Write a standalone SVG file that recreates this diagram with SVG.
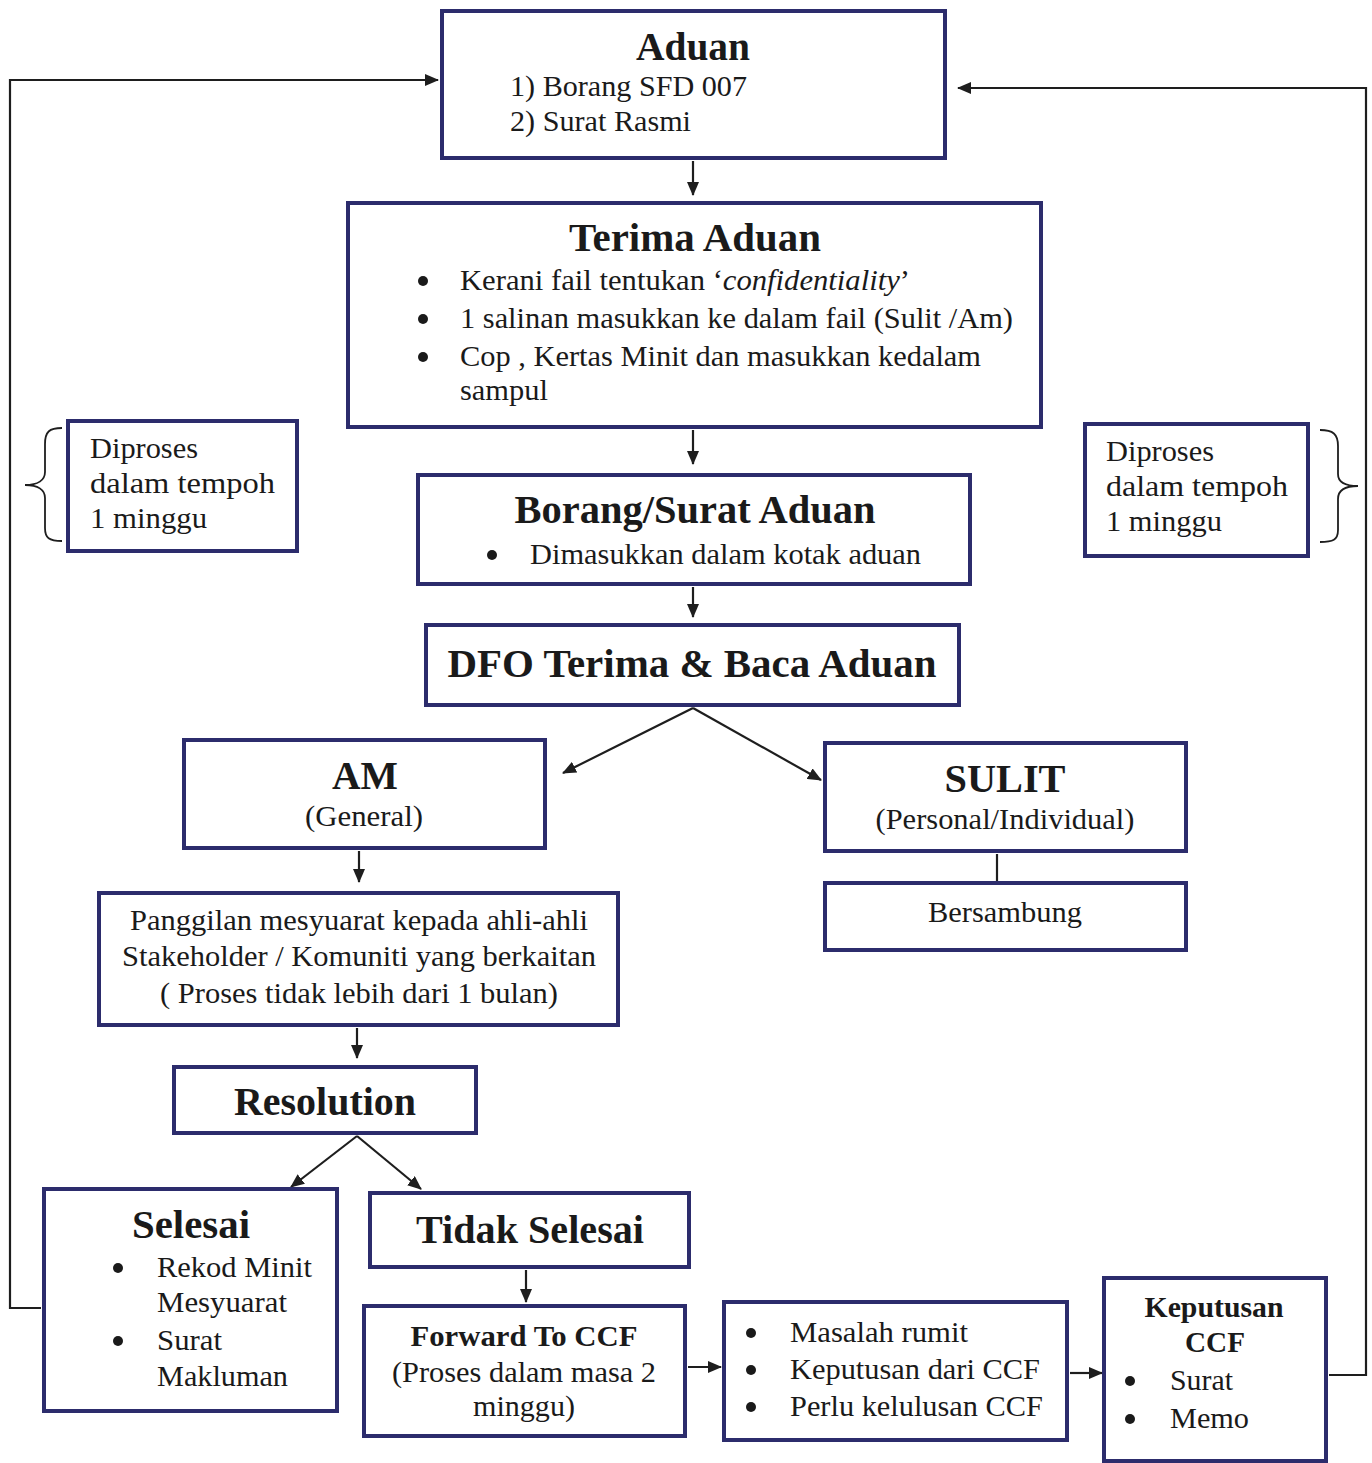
<svg xmlns="http://www.w3.org/2000/svg" width="1372" height="1463" viewBox="0 0 1372 1463">
<style>
.box{fill:#fff;stroke:#2c2c6c;stroke-width:4}
.ln{fill:none;stroke:#1e1e1e;stroke-width:2.2}
.br{fill:none;stroke:#1e1e1e;stroke-width:1.8}
text{fill:#1a1a1a}
.t{font-size:30px}
.h{font-weight:bold;font-size:40px}
.s{font-weight:bold;font-size:30px}
.m{text-anchor:middle}
.dot{fill:#1a1a1a}
</style>
<defs>
<marker id="ah" viewBox="0 0 14 12" refX="13" refY="6" markerWidth="14" markerHeight="12" markerUnits="userSpaceOnUse" orient="auto">
<path d="M0,0 L14,6 L0,12 Z" fill="#1e1e1e"/>
</marker>
</defs>
<rect width="1372" height="1463" fill="#fff"/>

<g id="connectors">
<line class="ln" x1="693" y1="161" x2="693" y2="195" marker-end="url(#ah)"/>
<line class="ln" x1="693" y1="430" x2="693" y2="464" marker-end="url(#ah)"/>
<line class="ln" x1="693" y1="587" x2="693" y2="617" marker-end="url(#ah)"/>
<line class="ln" x1="693" y1="708" x2="563" y2="773" marker-end="url(#ah)"/>
<line class="ln" x1="693" y1="708" x2="821" y2="780" marker-end="url(#ah)"/>
<line class="ln" x1="359" y1="851" x2="359" y2="882" marker-end="url(#ah)"/>
<line class="ln" x1="997" y1="854" x2="997" y2="881"/>
<line class="ln" x1="357" y1="1028" x2="357" y2="1058" marker-end="url(#ah)"/>
<line class="ln" x1="357" y1="1136" x2="291" y2="1187" marker-end="url(#ah)"/>
<line class="ln" x1="357" y1="1136" x2="421" y2="1189" marker-end="url(#ah)"/>
<line class="ln" x1="526" y1="1270" x2="526" y2="1302" marker-end="url(#ah)"/>
<line class="ln" x1="688" y1="1367" x2="721" y2="1367" marker-end="url(#ah)"/>
<line class="ln" x1="1070" y1="1373" x2="1102" y2="1373" marker-end="url(#ah)"/>
<polyline class="ln" points="41,1308 10,1308 10,80 438,80" marker-end="url(#ah)"/>
<polyline class="ln" points="1329,1375 1366,1375 1366,88 958,88" marker-end="url(#ah)"/>
</g>

<g font-family="Liberation Serif, Times New Roman, serif">
<g id="aduan">
<rect class="box" x="442" y="11" width="503" height="147"/>
<text class="h m" x="693" y="60" textLength="114" lengthAdjust="spacingAndGlyphs">Aduan</text>
<text class="t" x="510" y="96" textLength="237" lengthAdjust="spacingAndGlyphs">1) Borang SFD 007</text>
<text class="t" x="510" y="131" textLength="181" lengthAdjust="spacingAndGlyphs">2) Surat Rasmi</text>
</g>

<g id="terima-aduan">
<rect class="box" x="348" y="203" width="693" height="224"/>
<text class="h m" x="695" y="251" textLength="252" lengthAdjust="spacingAndGlyphs">Terima Aduan</text>
<circle class="dot" cx="423" cy="281" r="5"/>
<circle class="dot" cx="423" cy="319" r="5"/>
<circle class="dot" cx="423" cy="357" r="5"/>
<text class="t" x="460" y="290" textLength="450" lengthAdjust="spacingAndGlyphs">Kerani fail tentukan ‘<tspan font-style="italic">confidentiality</tspan>’</text>
<text class="t" x="460" y="328" textLength="553" lengthAdjust="spacingAndGlyphs">1 salinan masukkan ke dalam fail (Sulit /Am)</text>
<text class="t" x="460" y="366" textLength="521" lengthAdjust="spacingAndGlyphs">Cop , Kertas Minit dan masukkan kedalam</text>
<text class="t" x="460" y="400" textLength="88" lengthAdjust="spacingAndGlyphs">sampul</text>
</g>

<g id="borang-surat">
<rect class="box" x="418" y="475" width="552" height="109"/>
<text class="h m" x="695" y="523" textLength="361" lengthAdjust="spacingAndGlyphs">Borang/Surat Aduan</text>
<circle class="dot" cx="492" cy="555" r="5"/>
<text class="t" x="530" y="564" textLength="391" lengthAdjust="spacingAndGlyphs">Dimasukkan dalam kotak aduan</text>
</g>

<g id="dfo">
<rect class="box" x="426" y="625" width="533" height="80"/>
<text class="h m" x="692" y="677" textLength="489" lengthAdjust="spacingAndGlyphs">DFO Terima &amp; Baca Aduan</text>
</g>

<g id="am">
<rect class="box" x="184" y="740" width="361" height="108"/>
<text class="h m" x="365" y="789" textLength="66" lengthAdjust="spacingAndGlyphs">AM</text>
<text class="t m" x="364" y="826" textLength="118" lengthAdjust="spacingAndGlyphs">(General)</text>
</g>

<g id="sulit">
<rect class="box" x="825" y="743" width="361" height="108"/>
<text class="h m" x="1005" y="792" textLength="121" lengthAdjust="spacingAndGlyphs">SULIT</text>
<text class="t m" x="1005" y="829" textLength="259" lengthAdjust="spacingAndGlyphs">(Personal/Individual)</text>
</g>

<g id="bersambung">
<rect class="box" x="825" y="883" width="361" height="67"/>
<text class="t m" x="1005" y="922" textLength="154" lengthAdjust="spacingAndGlyphs">Bersambung</text>
</g>

<g id="panggilan">
<rect class="box" x="99" y="893" width="519" height="132"/>
<text class="t m" x="359" y="930" textLength="458" lengthAdjust="spacingAndGlyphs">Panggilan mesyuarat kepada ahli-ahli</text>
<text class="t m" x="359" y="966" textLength="474" lengthAdjust="spacingAndGlyphs">Stakeholder / Komuniti yang berkaitan</text>
<text class="t m" x="359" y="1003" textLength="398" lengthAdjust="spacingAndGlyphs">( Proses tidak lebih dari 1 bulan)</text>
</g>

<g id="resolution">
<rect class="box" x="174" y="1067" width="302" height="66"/>
<text class="h m" x="325" y="1115" textLength="182" lengthAdjust="spacingAndGlyphs">Resolution</text>
</g>

<g id="selesai">
<rect class="box" x="44" y="1189" width="293" height="222"/>
<text class="h m" x="191" y="1238" textLength="118" lengthAdjust="spacingAndGlyphs">Selesai</text>
<circle class="dot" cx="118" cy="1268" r="5"/>
<circle class="dot" cx="118" cy="1341" r="5"/>
<text class="t" x="157" y="1277" textLength="155" lengthAdjust="spacingAndGlyphs">Rekod Minit</text>
<text class="t" x="157" y="1312" textLength="130" lengthAdjust="spacingAndGlyphs">Mesyuarat</text>
<text class="t" x="157" y="1350" textLength="65" lengthAdjust="spacingAndGlyphs">Surat</text>
<text class="t" x="157" y="1386" textLength="131" lengthAdjust="spacingAndGlyphs">Makluman</text>
</g>

<g id="tidak-selesai">
<rect class="box" x="370" y="1193" width="319" height="74"/>
<text class="h m" x="530" y="1243" textLength="228" lengthAdjust="spacingAndGlyphs">Tidak Selesai</text>
</g>

<g id="forward-ccf">
<rect class="box" x="364" y="1306" width="321" height="130"/>
<text class="s m" x="524" y="1346" textLength="227" lengthAdjust="spacingAndGlyphs">Forward To CCF</text>
<text class="t m" x="524" y="1382" textLength="264" lengthAdjust="spacingAndGlyphs">(Proses dalam masa 2</text>
<text class="t m" x="524" y="1416" textLength="102" lengthAdjust="spacingAndGlyphs">minggu)</text>
</g>

<g id="masalah">
<rect class="box" x="724" y="1302" width="343" height="138"/>
<circle class="dot" cx="751" cy="1333" r="5"/>
<circle class="dot" cx="751" cy="1370" r="5"/>
<circle class="dot" cx="751" cy="1407" r="5"/>
<text class="t" x="790" y="1342" textLength="178" lengthAdjust="spacingAndGlyphs">Masalah rumit</text>
<text class="t" x="790" y="1379" textLength="250" lengthAdjust="spacingAndGlyphs">Keputusan dari CCF</text>
<text class="t" x="790" y="1416" textLength="253" lengthAdjust="spacingAndGlyphs">Perlu kelulusan CCF</text>
</g>

<g id="keputusan-ccf">
<rect class="box" x="1104" y="1278" width="222" height="183"/>
<text class="s m" x="1214" y="1317" textLength="139" lengthAdjust="spacingAndGlyphs">Keputusan</text>
<text class="s m" x="1215" y="1352" textLength="60" lengthAdjust="spacingAndGlyphs">CCF</text>
<circle class="dot" cx="1130" cy="1381" r="5"/>
<circle class="dot" cx="1130" cy="1419" r="5"/>
<text class="t" x="1170" y="1390" textLength="63" lengthAdjust="spacingAndGlyphs">Surat</text>
<text class="t" x="1170" y="1428" textLength="79" lengthAdjust="spacingAndGlyphs">Memo</text>
</g>

<g id="diproses-kiri">
<rect class="box" x="68" y="421" width="229" height="130"/>
<text class="t" x="90" y="458" textLength="108" lengthAdjust="spacingAndGlyphs">Diproses</text>
<text class="t" x="90" y="493" textLength="185" lengthAdjust="spacingAndGlyphs">dalam  tempoh</text>
<text class="t" x="90" y="528" textLength="117" lengthAdjust="spacingAndGlyphs">1 minggu</text>
<path class="br" d="M62,428 C49,428 45,432 45,444 L45,472 C45,480 38,485 25,485 C38,485 45,490 45,498 L45,528 C45,538 49,541 62,541"/>
</g>

<g id="diproses-kanan">
<rect class="box" x="1085" y="424" width="223" height="132"/>
<text class="t" x="1106" y="461" textLength="108" lengthAdjust="spacingAndGlyphs">Diproses</text>
<text class="t" x="1106" y="496" textLength="182" lengthAdjust="spacingAndGlyphs">dalam  tempoh</text>
<text class="t" x="1106" y="531" textLength="116" lengthAdjust="spacingAndGlyphs">1 minggu</text>
<path class="br" d="M1320,430 C1333,430 1338,434 1338,446 L1338,474 C1338,482 1344,486 1358,486 C1344,486 1338,491 1338,499 L1338,530 C1338,540 1333,542 1320,542"/>
</g>
</g>
</svg>
